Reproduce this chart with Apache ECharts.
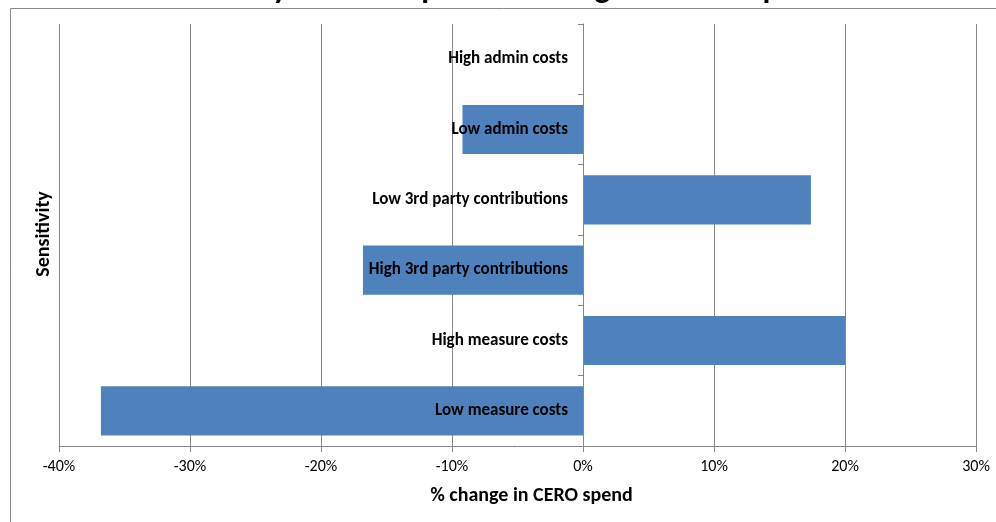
<!DOCTYPE html>
<html>
<head>
<meta charset="utf-8">
<script src="https://cdn.jsdelivr.net/npm/echarts@6/dist/echarts.min.js"></script>
<style>
  html, body { margin: 0; padding: 0; background: #fff; }
  #chart { width: 996px; height: 522px; }
</style>
</head>
<body>
<div id="chart"></div>
<script>
// Sensitivity scenarios, listed bottom to top
const categories = [
  'Low measure costs',
  'High measure costs',
  'High 3rd party contributions',
  'Low 3rd party contributions',
  'Low admin costs',
  'High admin costs'
];
// Percentage change in CERO spend for each scenario
const changePct = [-36.8, 20.0, -16.8, 17.4, -9.2, 0];
// Horizontal axis range and tick step (percent)
const xMin = -40;
const xMax = 30;
const xStep = 10;

const FONT = 'Carlito, Calibri, Lato, "Open Sans", sans-serif';
const GRID_LEFT = 59;
const GRID_RIGHT = 20;
const WIDTH = 996;

const chart = echarts.init(document.getElementById('chart'));

// Pixel distance from the left grid edge to the zero line, so the
// category axis (line, ticks, labels) can sit on x = 0
const plotWidth = WIDTH - GRID_LEFT - GRID_RIGHT;
const zeroOffset = plotWidth * (0 - xMin) / (xMax - xMin);

chart.setOption({
  animation: false,
  backgroundColor: '#fff',
  title: {
    text: 'Sensitivity of CERO spend to changes in assumptions',
    left: 'center',
    top: -31,
    textStyle: { fontFamily: FONT, fontWeight: 'bold', fontSize: 32, color: '#000' }
  },
  graphic: [{
    type: 'rect',
    left: 8, top: 6,
    shape: { width: 1010, height: 540 },
    style: { fill: 'none', stroke: '#898989', lineWidth: 1 },
    silent: true, z: -1
  }, {
    type: 'text',
    x: 44, y: 234,
    rotation: Math.PI / 2,
    style: {
      text: 'Sensitivity',
      font: 'bold 20px ' + FONT,
      fill: '#000',
      textAlign: 'center',
      textVerticalAlign: 'middle'
    }
  }],
  grid: {
    left: GRID_LEFT, right: GRID_RIGHT, top: 24, bottom: 76,
    outerBoundsMode: 'none'
  },
  xAxis: {
    type: 'value',
    min: xMin, max: xMax, interval: xStep,
    name: '% change in CERO spend',
    nameLocation: 'middle',
    nameGap: 40,
    nameTextStyle: {
      fontFamily: FONT, fontWeight: 'bold', fontSize: 20, color: '#000',
      padding: [0, 0, 0, 28]
    },
    axisLine: { show: true, lineStyle: { color: '#868686', width: 1 } },
    axisTick: { show: true, length: 6, lineStyle: { color: '#868686' } },
    axisLabel: {
      fontFamily: FONT, fontSize: 16, color: '#000', margin: 13,
      formatter: v => v + '%'
    },
    splitLine: { show: true, lineStyle: { color: '#868686', width: 1 } }
  },
  yAxis: {
    type: 'category',
    data: categories,
    position: 'left',
    offset: -zeroOffset,
    z: 5,
    axisLine: { show: true, onZero: false, lineStyle: { color: '#868686', width: 1 } },
    axisTick: { show: true, length: 5, lineStyle: { color: '#868686' } },
    axisLabel: {
      fontFamily: FONT, fontWeight: 'bold', fontSize: 17, color: '#000', margin: 15,
      padding: [5, 0, 0, 0]
    },
    splitLine: { show: false }
  },
  series: [{
    type: 'bar',
    data: changePct,
    barCategoryGap: '30%',
    itemStyle: { color: '#4f81bd' },
    z: 1
  }]
});
</script>
</body>
</html>
